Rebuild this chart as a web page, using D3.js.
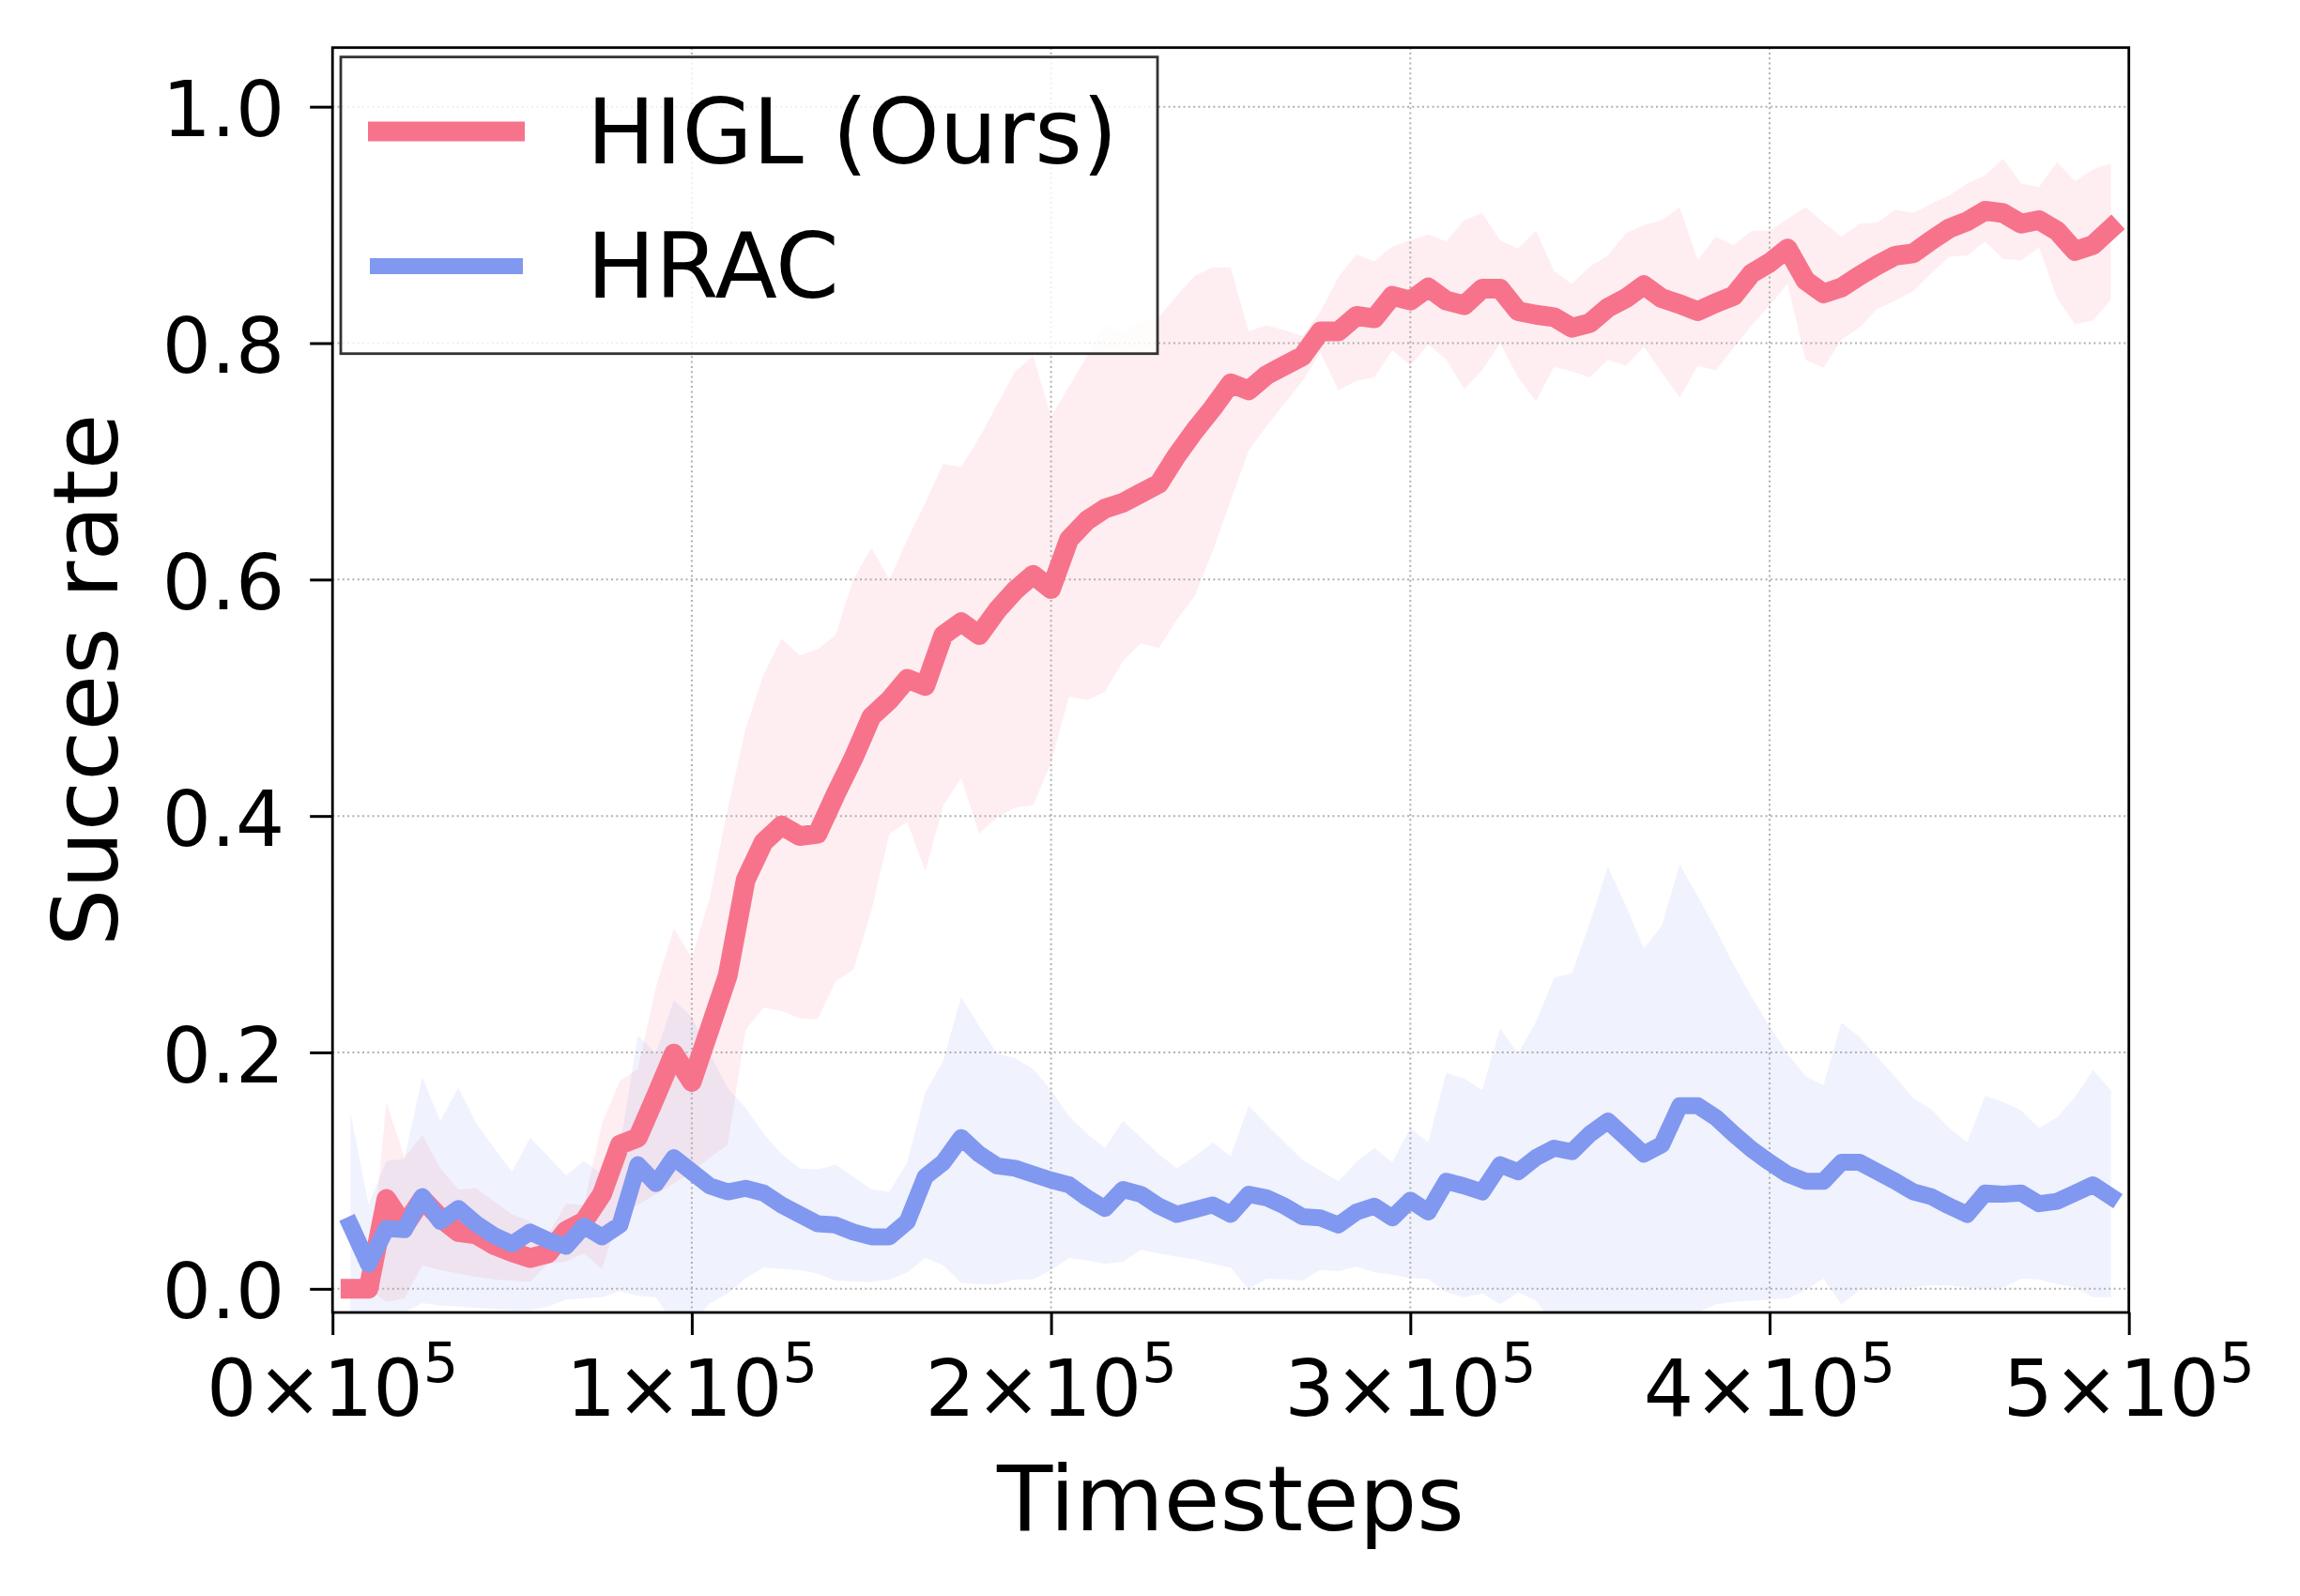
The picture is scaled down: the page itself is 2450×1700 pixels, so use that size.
<!DOCTYPE html>
<html><head><meta charset="utf-8">
<script src="https://cdn.jsdelivr.net/npm/d3@7"></script>
<style>body{margin:0;background:#fff} svg{display:block}</style>
</head><body><svg id="chart" width="2450" height="1700"></svg>
<script>
const timesteps = [5000,10000,15000,20000,25000,30000,35000,40000,45000,50000,
55000,60000,65000,70000,75000,80000,85000,90000,95000,100000,
105000,110000,115000,120000,125000,130000,135000,140000,145000,150000,
155000,160000,165000,170000,175000,180000,185000,190000,195000,200000,
205000,210000,215000,220000,225000,230000,235000,240000,245000,250000,
255000,260000,265000,270000,275000,280000,285000,290000,295000,300000,
305000,310000,315000,320000,325000,330000,335000,340000,345000,350000,
355000,360000,365000,370000,375000,380000,385000,390000,395000,400000,
405000,410000,415000,420000,425000,430000,435000,440000,445000,450000,
455000,460000,465000,470000,475000,480000,485000,490000,495000];

const higlMean = [0.0,0.0,0.076,0.053,0.076,0.060,0.048,0.046,0.037,0.031,
0.026,0.030,0.049,0.057,0.080,0.122,0.128,0.163,0.199,0.175,
0.220,0.265,0.346,0.378,0.392,0.383,0.385,0.418,0.449,0.484,
0.498,0.516,0.510,0.553,0.564,0.553,0.574,0.591,0.604,0.592,
0.634,0.650,0.660,0.665,0.673,0.681,0.705,0.726,0.745,0.766,
0.760,0.773,0.781,0.789,0.810,0.810,0.823,0.821,0.840,0.836,
0.847,0.836,0.832,0.846,0.846,0.827,0.824,0.822,0.813,0.817,
0.830,0.838,0.849,0.838,0.833,0.827,0.834,0.840,0.859,0.868,
0.880,0.853,0.842,0.847,0.857,0.866,0.874,0.876,0.887,0.897,
0.903,0.912,0.910,0.901,0.904,0.895,0.878,0.883,0.897];

const higlUpper = [0.0,0.0,0.158,0.111,0.130,0.102,0.084,0.085,0.074,0.063,
0.057,0.046,0.072,0.071,0.140,0.176,0.186,0.255,0.305,0.280,
0.331,0.406,0.474,0.520,0.550,0.536,0.541,0.553,0.600,0.627,
0.600,0.634,0.665,0.698,0.695,0.720,0.748,0.776,0.789,0.738,
0.763,0.789,0.815,0.809,0.819,0.822,0.840,0.857,0.864,0.864,
0.810,0.815,0.811,0.806,0.827,0.856,0.875,0.869,0.882,0.887,
0.892,0.886,0.904,0.910,0.887,0.880,0.895,0.861,0.850,0.865,
0.874,0.893,0.900,0.904,0.915,0.870,0.890,0.883,0.895,0.895,
0.905,0.915,0.902,0.890,0.901,0.902,0.913,0.910,0.918,0.925,
0.935,0.942,0.956,0.935,0.932,0.953,0.937,0.947,0.952];

const higlLower = [0.0,0.0,-0.011,-0.008,0.020,0.016,0.013,0.010,0.008,0.007,
0.006,0.021,0.023,0.030,0.017,0.065,0.071,0.080,0.089,0.099,
0.111,0.122,0.219,0.238,0.235,0.229,0.228,0.260,0.270,0.320,
0.385,0.395,0.353,0.409,0.432,0.385,0.399,0.407,0.409,0.445,
0.501,0.498,0.505,0.531,0.546,0.542,0.566,0.586,0.624,0.667,
0.709,0.730,0.749,0.768,0.792,0.760,0.768,0.771,0.794,0.781,
0.799,0.786,0.761,0.777,0.800,0.771,0.751,0.780,0.776,0.771,
0.786,0.781,0.797,0.775,0.754,0.781,0.777,0.796,0.815,0.832,
0.850,0.786,0.779,0.803,0.813,0.829,0.836,0.844,0.859,0.873,
0.874,0.886,0.871,0.870,0.881,0.838,0.816,0.819,0.837];

const hracMean = [0.054,0.021,0.051,0.050,0.078,0.057,0.068,0.055,0.045,0.038,
0.048,0.041,0.036,0.053,0.044,0.054,0.105,0.089,0.111,0.099,
0.087,0.082,0.085,0.081,0.071,0.063,0.055,0.054,0.048,0.044,
0.044,0.057,0.095,0.107,0.128,0.114,0.104,0.102,0.097,0.092,
0.088,0.077,0.068,0.084,0.080,0.070,0.063,0.067,0.071,0.063,
0.080,0.077,0.070,0.061,0.060,0.054,0.065,0.070,0.060,0.075,
0.065,0.091,0.087,0.082,0.105,0.099,0.111,0.119,0.116,0.131,
0.142,0.128,0.114,0.122,0.155,0.155,0.145,0.131,0.118,0.107,
0.097,0.091,0.091,0.107,0.107,0.099,0.091,0.082,0.078,0.070,
0.063,0.081,0.080,0.081,0.072,0.074,0.081,0.088,0.078];

const hracUpper = [0.149,0.071,0.108,0.110,0.179,0.142,0.170,0.140,0.119,0.099,
0.128,0.112,0.096,0.108,0.097,0.120,0.214,0.199,0.244,0.230,
0.199,0.170,0.153,0.131,0.114,0.102,0.101,0.105,0.095,0.084,
0.082,0.107,0.166,0.193,0.247,0.222,0.199,0.195,0.186,0.168,
0.146,0.131,0.119,0.142,0.128,0.114,0.102,0.112,0.124,0.112,
0.155,0.139,0.124,0.109,0.100,0.091,0.107,0.119,0.107,0.136,
0.124,0.183,0.178,0.168,0.220,0.199,0.226,0.263,0.267,0.310,
0.357,0.324,0.288,0.307,0.359,0.332,0.304,0.274,0.247,0.222,
0.199,0.180,0.172,0.225,0.213,0.196,0.179,0.161,0.152,0.136,
0.124,0.163,0.158,0.151,0.136,0.145,0.162,0.185,0.168];

const hracLower = [-0.040,-0.040,-0.030,-0.020,-0.012,-0.014,-0.015,-0.016,-0.017,-0.018,
-0.018,-0.015,-0.009,-0.008,-0.007,-0.002,-0.006,-0.007,-0.030,-0.030,
-0.012,-0.004,0.009,0.018,0.017,0.016,0.013,0.007,0.0065,0.006,
0.008,0.014,0.026,0.020,0.005,0.004,0.004,0.008,0.008,0.016,
0.026,0.024,0.021,0.023,0.033,0.030,0.027,0.025,0.021,0.018,
0.000,0.0085,0.008,0.007,0.016,0.015,0.019,0.014,0.012,0.009,
0.0085,-0.003,-0.007,-0.004,-0.013,-0.003,-0.010,-0.030,-0.040,-0.040,
-0.040,-0.040,-0.040,-0.040,-0.030,-0.020,-0.013,-0.011,-0.010,-0.009,
-0.008,-0.001,0.0085,-0.013,-0.001,0.0005,0.001,0.001,0.003,0.003,
0.001,0.000,0.001,0.0085,0.008,0.004,0.001,-0.007,-0.007];

const seriesNames = ["HIGL (Ours)", "HRAC"];
const xTickValues = [0, 100000, 200000, 300000, 400000, 500000];
const xTickMantissa = ["0", "1", "2", "3", "4", "5"];
const yTickValues = [0, 0.2, 0.4, 0.6, 0.8, 1.0];
const yTickLabels = ["0.0", "0.2", "0.4", "0.6", "0.8", "1.0"];

const RED = "#F7738B", BLUE = "#8198F0";
const FONT = "DejaVu Sans";
const L = 354.2, R = 2267.7, T = 50.7, B = 1398;

const svg = d3.select("#chart");
const x = d3.scaleLinear().domain([0, 500000]).range([L, R]);
const y = d3.scaleLinear().domain([-0.02, 1.05]).range([B, T]);

svg.append("rect").attr("width", 2450).attr("height", 1700).attr("fill", "#fff");
svg.append("defs").append("clipPath").attr("id", "plotclip")
  .append("rect").attr("x", L).attr("y", T).attr("width", R - L).attr("height", B - T);

const plot = svg.append("g").attr("clip-path", "url(#plotclip)");

function band(lo, hi) {
  return d3.area().x((d, i) => x(timesteps[i])).y0((d, i) => y(lo[i])).y1((d, i) => y(hi[i]))(timesteps);
}
function line(vals) {
  return d3.line().x((d, i) => x(timesteps[i])).y((d, i) => y(vals[i]))(timesteps);
}

plot.append("path").attr("d", band(higlLower, higlUpper)).attr("fill", RED).attr("fill-opacity", 0.12);
plot.append("path").attr("d", band(hracLower, hracUpper)).attr("fill", BLUE).attr("fill-opacity", 0.12);

// grid
const grid = plot.append("g").attr("stroke", "#b0b0b0").attr("stroke-width", 2).attr("stroke-dasharray", "2,3.3");
grid.selectAll("line.gy").data(yTickValues).join("line")
  .attr("x1", L).attr("x2", R).attr("y1", d => y(d)).attr("y2", d => y(d));
grid.selectAll("line.gx").data(xTickValues).join("line").attr("class", "gx")
  .attr("y1", T).attr("y2", B).attr("x1", d => x(d)).attr("x2", d => x(d));

plot.append("path").attr("d", line(higlMean)).attr("fill", "none").attr("stroke", RED)
  .attr("stroke-width", 21).attr("stroke-linecap", "square").attr("stroke-linejoin", "round");
plot.append("path").attr("d", line(hracMean)).attr("fill", "none").attr("stroke", BLUE)
  .attr("stroke-width", 18).attr("stroke-linecap", "square").attr("stroke-linejoin", "round");

// spines
svg.append("rect").attr("x", L).attr("y", T).attr("width", R - L).attr("height", B - T)
  .attr("fill", "none").attr("stroke", "#000").attr("stroke-width", 2.8);

// axes ticks
const xAxis = svg.append("g").attr("transform", `translate(0,${B})`)
  .call(d3.axisBottom(x).tickValues(xTickValues).tickSize(24).tickFormat(""));
const yAxis = svg.append("g").attr("transform", `translate(${L},0)`)
  .call(d3.axisLeft(y).tickValues(yTickValues).tickSize(24).tickPadding(27)
    .tickFormat((d, i) => yTickLabels[i]));
[xAxis, yAxis].forEach(a => {
  a.select(".domain").remove();
  a.selectAll(".tick line").attr("stroke", "#000").attr("stroke-width", 3);
});
yAxis.selectAll(".tick text").attr("font-family", FONT).attr("font-size", 82)
  .attr("fill", "#000").attr("dy", "0.38em");

// x tick labels with superscript
const xl = svg.append("g").attr("font-family", FONT).attr("font-size", 84).attr("fill", "#000");
xTickValues.forEach((v, i) => {
  const t = xl.append("text").attr("x", x(v)).attr("y", 1508).attr("text-anchor", "middle");
  t.append("tspan").text(xTickMantissa[i] + "\u00D710");
  t.append("tspan").attr("font-size", 59).attr("dy", -36).text("5");
});

// axis labels
svg.append("text").attr("x", (L + R) / 2).attr("y", 1630).attr("text-anchor", "middle")
  .attr("font-family", FONT).attr("font-size", 97).attr("fill", "#000").text("Timesteps");
svg.append("text").attr("transform", `translate(125,${(T + B) / 2}) rotate(-90)`).attr("text-anchor", "middle")
  .attr("font-family", FONT).attr("font-size", 97).attr("fill", "#000").text("Succes rate");

// legend
const lg = svg.append("g");
lg.append("rect").attr("x", 363).attr("y", 60.7).attr("width", 870).attr("height", 316)
  .attr("fill", "#fff").attr("fill-opacity", 0.8).attr("stroke", "#333").attr("stroke-width", 2.8);
const legendItems = [
  {name: seriesNames[0], color: RED, w: 21, cy: 140, by: 174},
  {name: seriesNames[1], color: BLUE, w: 17, cy: 283.5, by: 317}
];
legendItems.forEach(it => {
  lg.append("line").attr("x1", 402.5).attr("x2", 548.5).attr("y1", it.cy).attr("y2", it.cy)
    .attr("stroke", it.color).attr("stroke-width", it.w).attr("stroke-linecap", "square");
  lg.append("text").attr("x", 625).attr("y", it.by).attr("font-family", FONT).attr("font-size", 97)
    .attr("fill", "#000").text(it.name);
});
</script></body></html>
